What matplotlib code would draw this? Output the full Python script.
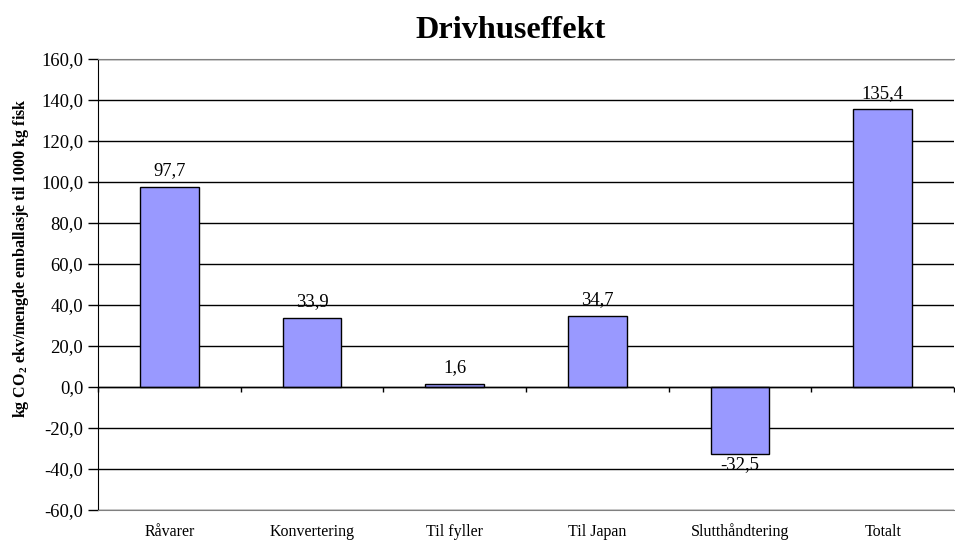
import matplotlib.pyplot as plt
import numpy as np
from matplotlib.ticker import FuncFormatter

categories = ["Råvarer", "Konvertering", "Til fyller", "Til Japan", "Slutthåndtering", "Totalt"]
values = [97.7, 33.9, 1.6, 34.7, -32.5, 135.4]
y_ticks = [-60, -40, -20, 0, 20, 40, 60, 80, 100, 120, 140, 160]

plt.rcParams['font.family'] = ['Liberation Serif', 'DejaVu Serif']

fig = plt.figure(figsize=(9.55, 5.41), dpi=100)
ax = fig.add_axes([98 / 955, 31 / 541, 856 / 955, 451 / 541])

x = np.arange(len(categories))
bars = ax.bar(x, values, width=0.41, color='#9999FF', edgecolor='black', linewidth=1.0, zorder=3)

ax.set_xlim(-0.5, len(categories) - 0.5)
ax.set_ylim(-60, 160)
ax.set_yticks(y_ticks)
ax.yaxis.set_major_formatter(FuncFormatter(lambda v, p: f"{v:.1f}".replace('.', ',')))
ax.tick_params(axis='y', length=7, width=1, labelsize=13.4, pad=3.6)
ax.yaxis.grid(True, color='black', linewidth=1.0, zorder=0)

ax.set_xticks(x)
ax.set_xticklabels(categories, fontsize=11.5)
ax.tick_params(axis='x', length=0, pad=18.5)
for lbl in ax.get_xticklabels():
    lbl.set_verticalalignment('baseline')

for s in ['top', 'bottom', 'right']:
    ax.spines[s].set_color('#808080')
ax.spines['right'].set_visible(False)
ax.spines['left'].set_color('black')

# zero baseline with category separator ticks
ax.axhline(0, color='black', linewidth=1.0, zorder=4)
bounds = np.arange(len(categories) + 1) - 0.5
ax.vlines(bounds, -2.6, 0, color='black', linewidth=1.0, zorder=4, clip_on=False)

for b, v in zip(bars, values):
    lab = f"{v:.1f}".replace('.', ',')
    cx = b.get_x() + b.get_width() / 2
    if v >= 0:
        ax.annotate(lab, (cx, v), xytext=(0, 8.5), textcoords='offset points',
                    ha='center', va='baseline', fontsize=13.4)
    else:
        ax.annotate(lab, (cx, v), xytext=(0, -2), textcoords='offset points',
                    ha='center', va='top', fontsize=13.4)

fig.text(511 / 955, 1 - 30 / 541, "Drivhuseffekt", ha='center', va='center',
         fontsize=23.2, fontweight='bold')
ax.set_ylabel(r"kg CO$_\mathregular{2}$ ekv/mengde emballasje til 1000 kg fisk",
              fontsize=11.5, fontweight='bold')
ax.yaxis.set_label_coords(-0.078, 0.559)

fig.savefig('out.png', dpi=100)
